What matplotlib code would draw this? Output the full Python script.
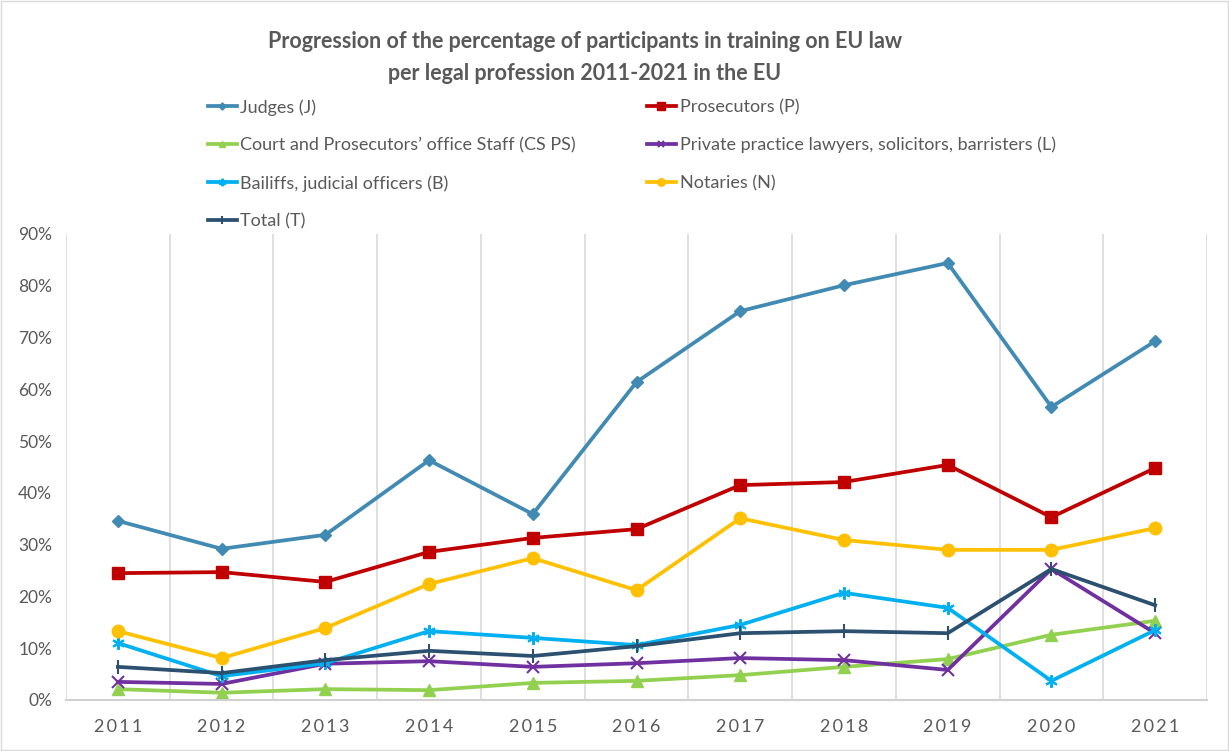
import matplotlib
matplotlib.use('Agg')
import matplotlib.pyplot as plt
from matplotlib.patches import Rectangle
from matplotlib.ticker import PercentFormatter

plt.rcParams['font.family'] = ['Lato', 'DejaVu Sans']

# data (percent)
years = [2011, 2012, 2013, 2014, 2015, 2016, 2017, 2018, 2019, 2020, 2021]
judges = [34.6, 29.2, 31.9, 46.3, 35.9, 61.4, 75.1, 80.1, 84.4, 56.6, 69.3]
prosecutors = [24.5, 24.7, 22.8, 28.6, 31.3, 33.0, 41.5, 42.1, 45.4, 35.3, 44.8]
court_staff = [2.1, 1.4, 2.1, 1.9, 3.3, 3.7, 4.8, 6.4, 7.9, 12.6, 15.3]
lawyers = [3.5, 3.1, 7.0, 7.5, 6.4, 7.1, 8.1, 7.7, 5.8, 25.3, 12.9]
bailiffs = [11.0, 4.6, 7.1, 13.3, 12.0, 10.6, 14.5, 20.7, 17.8, 3.7, 13.5]
notaries = [13.3, 8.1, 13.9, 22.4, 27.4, 21.2, 35.1, 30.9, 29.0, 29.0, 33.2]
total = [6.4, 5.2, 7.7, 9.5, 8.5, 10.4, 12.9, 13.3, 12.9, 25.3, 18.3]

labels = ['Judges (J)', 'Prosecutors (P)', 'Court and Prosecutors\u2019 office Staff (CS PS)',
          'Private practice lawyers, solicitors, barristers (L)', 'Bailiffs, judicial officers (B)',
          'Notaries (N)', 'Total (T)']

fig = plt.figure(figsize=(12.29, 7.51), dpi=100)
ax = fig.add_axes([66 / 1229, 51 / 751, (1207 - 66) / 1229, (700 - 234) / 751])

lw = 2.7
h_j, = ax.plot(years, judges, color='#418AB3', lw=lw, marker='D', ms=6, label=labels[0])
h_p, = ax.plot(years, prosecutors, color='#C00000', lw=lw, marker='s', ms=9, label=labels[1])
h_cs, = ax.plot(years, court_staff, color='#92D050', lw=lw, marker='^', ms=8, label=labels[2])
h_l, = ax.plot(years, lawyers, color='#7030A0', lw=lw, marker='x', ms=8, mew=1.5, label=labels[3])
h_b, = ax.plot(years, bailiffs, color='#00B0F0', lw=lw, marker=(6, 2, 0), ms=9, mew=1.5, label=labels[4])
h_n, = ax.plot(years, notaries, color='#FFC000', lw=lw, marker='o', ms=9, label=labels[5])
h_t, = ax.plot(years, total, color='#2B5070', lw=lw, marker='|', ms=10, mew=1.5, label=labels[6])

ax.set_xlim(2010.5, 2021.5)
ax.set_ylim(0, 90)
ax.set_yticks(range(0, 91, 10))
ax.yaxis.set_major_formatter(PercentFormatter(decimals=0))
ax.set_xticks(years)
# letter-spaced year labels as in the original
ax.set_xticklabels(['\u2009'.join(str(y)) for y in years])
ax.set_xticks([y + 0.5 for y in [2010] + years], minor=True)
ax.grid(True, axis='x', which='minor', color='#D9D9D9', lw=1.2)
ax.tick_params(axis='both', which='both', length=0, colors='#595959', labelsize=12.5)
ax.tick_params(axis='x', pad=14, labelsize=13)
ax.tick_params(axis='y', pad=10)
for s in ['top', 'left', 'right']:
    ax.spines[s].set_visible(False)
ax.spines['bottom'].set_color('#D0D0D0')
ax.spines['bottom'].set_linewidth(1.5)

fig.text(0.476, 0.945, 'Progression of the percentage of participants in training on EU law',
         ha='center', va='center', fontsize=15.5, fontweight='bold', color='#595959')
fig.text(0.476, 0.902, 'per legal profession 2011-2021 in the EU',
         ha='center', va='center', fontsize=15.5, fontweight='bold', color='#595959')

leg_kw = dict(loc='upper left', frameon=False, fontsize=13, labelcolor='#595959',
              handlelength=1.6, handletextpad=0.2, labelspacing=1.2, markerscale=0.6,
              borderaxespad=0, borderpad=0)
col1 = [h_j, h_cs, h_b, h_t]
col2 = [h_p, h_l, h_n]
fig.legend(handles=col1, labels=[h.get_label() for h in col1],
           bbox_to_anchor=(208 / 1229, 1 - 99 / 751), **leg_kw)
fig.legend(handles=col2, labels=[h.get_label() for h in col2],
           bbox_to_anchor=(647 / 1229, 1 - 99 / 751), **leg_kw)

fig.patches.append(Rectangle((0.001, 0.001), 0.998, 0.998, transform=fig.transFigure,
                             fill=False, edgecolor='#D9D9D9', lw=1))

fig.savefig('out.png', dpi=100)
